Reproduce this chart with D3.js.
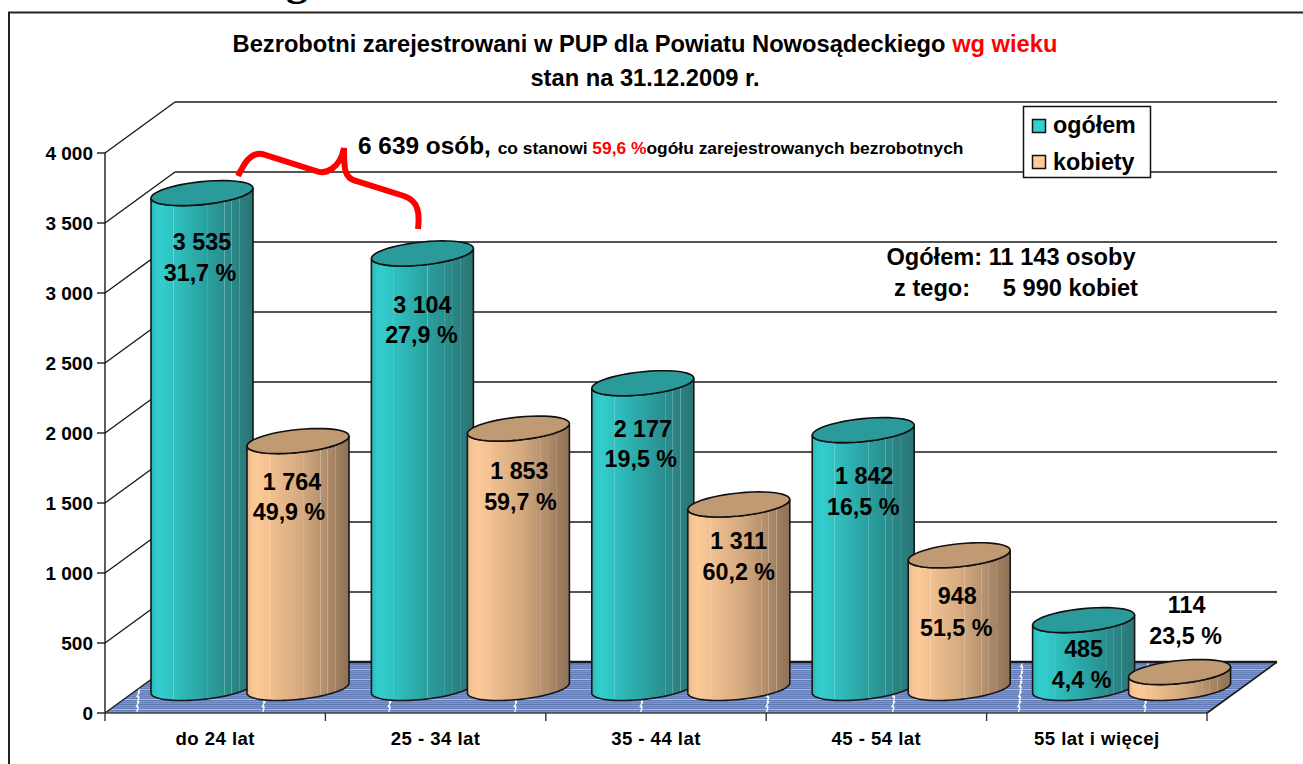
<!DOCTYPE html>
<html><head><meta charset="utf-8">
<script src="https://cdn.jsdelivr.net/npm/d3@7/dist/d3.min.js"></script>
<style>
html,body{margin:0;padding:0;background:#fff}
svg{display:block}
text{font-family:"Liberation Sans",Arial,sans-serif;font-weight:bold;fill:#000;white-space:pre}
</style></head><body><div id="c"></div>
<script>
// ---- data ----
const categories = ["do 24 lat","25 - 34 lat","35 - 44 lat","45 - 54 lat","55 lat i więcej"];
const seriesNames = ["ogółem","kobiety"];
const ogolem = [3535,3104,2177,1842,485];
const kobiety = [1764,1853,1311,948,114];
const ogolemPct = ["31,7 %","27,9 %","19,5 %","16,5 %","4,4 %"];
const kobietyPct = ["49,9 %","59,7 %","60,2 %","51,5 %","23,5 %"];
const yTicks = [0,500,1000,1500,2000,2500,3000,3500,4000];
const yMax = 4000;

// ---- layout ----
const W=1303,H=764;
const plot={x0:105,x1:1207,y0:713,y1:153,dx:70,dy:51};
const svg=d3.select("#c").append("svg").attr("width",W).attr("height",H);
const defs=svg.append("defs");
const x=d3.scaleBand().domain(categories).range([plot.x0,plot.x1]);
const y=d3.scaleLinear().domain([0,yMax]).range([plot.y0,plot.y1]);
const seriesOffset={ogółem:97,kobiety:193};
const seriesColors={ogółem:{a:"#2db8b8",b:"#33d0d0",c:"#2a9f9f",d:"#2a7474",top:"#2a9a9a"},
                    kobiety:{a:"#e6b88a",b:"#ffcc99",c:"#d2a87e",d:"#8e7156",top:"#c09a72"}};
const rx=51, tilt=5, ry=11.5, depth=25;

// frame + clipped heading
svg.append("path").attr("d",`M9 ${H}V12.5H${W}`).attr("fill","none").attr("stroke","#222").attr("stroke-width",2);
svg.append("text").attr("x",286).attr("y",-5).attr("font-size",44).style("font-family","Liberation Serif").text("g");

// floor
const pat=defs.append("pattern").attr("id","floorPat").attr("patternUnits","userSpaceOnUse").attr("width",6).attr("height",10);
[["#627cb8",0],["#7f95c9",1],["#6a82bc",2],["#7d93c8",3],["#627cb8",4],["#7f95c9",5],["#6a82bc",6],["#7d93c8",7],["#627cb8",8],["#b0bddc",9]]
 .forEach(([c,i])=>pat.append("rect").attr("x",0).attr("y",i).attr("width",6).attr("height",1).attr("fill",c));
const floorPts=[[plot.x0,plot.y0],[plot.x1,plot.y0],[plot.x1+plot.dx,plot.y0-plot.dy],[plot.x0+plot.dx,plot.y0-plot.dy]];
svg.append("path").attr("d",d3.line()(floorPts)+"Z").attr("fill","url(#floorPat)");
// white break marks on floor
const breakStep=(plot.x1-plot.x0)/8.75;
d3.range(9).forEach(i=>{
  const bx=138+i*breakStep;
  const pts=[];
  d3.range(5).forEach(k=>{
    const yy=plot.y0-1-k*10;
    pts.push([bx-1+k*0.7,yy],[bx+0.2+k*0.7,yy-5],[bx-1.6+k*0.7,yy-5.5],[bx+0.8+k*0.7,yy-10]);
  });
  svg.append("path").attr("d",d3.line()(pts)).attr("fill","none").attr("stroke","#fff").attr("stroke-width",1.3);
});

// grid
const gridC="#1a1a1a";
yTicks.forEach(t=>{
  const yy=y(t);
  svg.append("line").attr("x1",plot.x0).attr("y1",yy).attr("x2",plot.x0+plot.dx).attr("y2",yy-plot.dy).attr("stroke",gridC).attr("stroke-width",1.4);
  svg.append("line").attr("x1",plot.x0+plot.dx).attr("y1",yy-plot.dy).attr("x2",plot.x1+plot.dx).attr("y2",yy-plot.dy)
    .attr("stroke",gridC).attr("stroke-width",t===0?2.4:1.4);
  svg.append("line").attr("x1",plot.x0-8).attr("y1",yy).attr("x2",plot.x0).attr("y2",yy).attr("stroke",gridC).attr("stroke-width",1.4);
  svg.append("text").attr("x",plot.x0-12).attr("y",yy+7).attr("text-anchor","end").attr("font-size",19)
    .text(d3.format(",")(t).replace(/,/g," "));
});
svg.append("line").attr("x1",plot.x0).attr("y1",plot.y1).attr("x2",plot.x0).attr("y2",plot.y0).attr("stroke",gridC).attr("stroke-width",1.4);
svg.append("line").attr("x1",plot.x0).attr("y1",plot.y0).attr("x2",plot.x1).attr("y2",plot.y0).attr("stroke","#444").attr("stroke-width",1.6);
svg.append("line").attr("x1",plot.x1).attr("y1",plot.y0).attr("x2",plot.x1+plot.dx).attr("y2",plot.y0-plot.dy).attr("stroke",gridC).attr("stroke-width",1.6);
categories.concat([null]).forEach((c,i)=>{
  const xx=c?x(c):plot.x1;
  svg.append("line").attr("x1",xx).attr("y1",plot.y0).attr("x2",xx).attr("y2",plot.y0+8).attr("stroke","#333").attr("stroke-width",1.4);
});
categories.forEach(c=>{
  svg.append("text").attr("x",x(c)+x.bandwidth()/2).attr("y",745).attr("text-anchor","middle")
    .attr("font-size",18.6).style("letter-spacing","0.45px").text(c);
});

// gradients
const stripeAt=[.22,.55,.72,.79,.87];
Object.entries(seriesColors).forEach(([name,col],gi)=>{
  const base=f=>f<.07?d3.interpolateRgb(col.a,col.b)(f/.07)
     :f<.55?d3.interpolateRgb(col.b,col.c)((f-.07)/.48)
     :d3.interpolateRgb(col.c,col.d)((f-.55)/.45);
  const g=defs.append("linearGradient").attr("id","grad"+gi).attr("x1",0).attr("x2",1).attr("y1",0).attr("y2",0);
  const stops=[];
  d3.range(0,1.0001,.05).forEach(f=>stops.push([f,base(f)]));
  stripeAt.forEach(f=>{
    stops.push([f-.006,base(f-.006)],[f,d3.interpolateRgb(base(f),"#fff")(.3)],[f+.006,base(f+.006)]);
  });
  stops.sort((a,b)=>a[0]-b[0]).forEach(s=>g.append("stop").attr("offset",s[0]).attr("stop-color",s[1]));
});

// cylinders
const ell=(cx,cy,from,to,n=48)=>d3.range(n+1).map(i=>{
  const t=from+(to-from)*i/n;
  return [cx+rx*Math.cos(t), cy-tilt*Math.cos(t)+ry*Math.sin(t)];
});
function cylinder(cat,val,name,gi){
  const cx=x(cat)+seriesOffset[name];
  const top=y(val)-depth, bot=y(0)-depth;
  const col=seriesColors[name];
  // body: down the left edge, round the front of the base, up the right edge
  const body=[...ell(cx,bot,Math.PI,0),...ell(cx,top,0,Math.PI)];
  svg.append("path").attr("d",d3.line()(body)+"Z").attr("fill",`url(#grad${gi})`).attr("stroke","#161616").attr("stroke-width",1.6);
  svg.append("path").attr("d",d3.line()(ell(cx,top,0,2*Math.PI))+"Z").attr("fill",col.top).attr("stroke","#111").attr("stroke-width",1.6);
}
categories.forEach((c,i)=>{
  cylinder(c,ogolem[i],"ogółem",0);
  cylinder(c,kobiety[i],"kobiety",1);
});

// value labels: centre shift and baseline offsets from the bar top
const fmt=v=>d3.format(",")(v).replace(/,/g," ");
const labelShiftOg=[[0,57,88,-2],[0,60,90,-1],[0,54,84,-2],[1,54,85,0],[0,37,68,-2]];
const labelShiftKo=[[-6,49,79,-9],[1,50,81,2],[0,45,76,0],[-2,49,81,-3],[7,-59,-28,6]];
categories.forEach((c,i)=>{
  [[ogolem,ogolemPct,"ogółem",labelShiftOg],[kobiety,kobietyPct,"kobiety",labelShiftKo]].forEach(([v,p,n,s])=>{
    const cx=x(c)+seriesOffset[n], top=y(v[i])-depth, o=s[i];
    svg.append("text").attr("x",cx+o[0]).attr("y",top+o[1]).attr("text-anchor","middle").attr("font-size",23.3).text(fmt(v[i]));
    svg.append("text").attr("x",cx+o[3]).attr("y",top+o[2]).attr("text-anchor","middle").attr("font-size",23.3).text(p[i]);
  });
});

// title
const t1=svg.append("text").attr("x",645).attr("y",52).attr("text-anchor","middle").attr("font-size",23.7);
t1.append("tspan").text("Bezrobotni zarejestrowani w PUP dla Powiatu Nowosądeckiego ");
t1.append("tspan").style("fill","#ff0000").text("wg wieku");
svg.append("text").attr("x",645).attr("y",86).attr("text-anchor","middle").attr("font-size",23.7).text("stan na 31.12.2009 r.");

// annotation
const a=svg.append("text").attr("x",358).attr("y",154).attr("font-size",17.4);
a.append("tspan").attr("font-size",24.4).text("6 639 osób, ");
a.append("tspan").text("co stanowi ");
a.append("tspan").style("fill","#ff0000").text("59,6 %");
a.append("tspan").text("ogółu zarejestrowanych bezrobotnych");
svg.append("path")
  .attr("d","M238 176C244 164 250 152 262 154L316 171C326 175 340 168 344 148C344 168 344 178 356 181L404 196C418 201 420 212 418 229")
  .attr("fill","none").attr("stroke","#ff0000").attr("stroke-width",6);

// totals
svg.append("text").attr("x",1011).attr("y",265).attr("text-anchor","middle").attr("font-size",23.6).text("Ogółem: 11 143 osoby");
svg.append("text").attr("x",1016).attr("y",296).attr("text-anchor","middle").attr("font-size",23.6).text("z tego:     5 990 kobiet");

// legend
svg.append("rect").attr("x",1023.5).attr("y",106.5).attr("width",127).attr("height",71).attr("fill","#fff").attr("stroke","#111").attr("stroke-width",1.5);
seriesNames.forEach((n,i)=>{
  svg.append("rect").attr("x",1032.5).attr("y",119.5+i*36).attr("width",13).attr("height",13)
    .attr("fill",seriesColors[n].b).attr("stroke","#111").attr("stroke-width",1.5);
  svg.append("text").attr("x",1053).attr("y",133+i*37).attr("font-size",23.3).text(n);
});
</script></body></html>
